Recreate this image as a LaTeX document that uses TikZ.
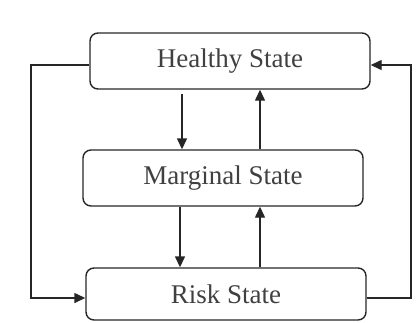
\documentclass[tikz,border=0pt]{standalone}
\usepackage{fontspec}
\setmainfont{Liberation Serif}
\usetikzlibrary{arrows.meta}
\begin{document}
\begin{tikzpicture}[x=1pt,y=-1pt,
  statebox/.style={draw=black!85, line width=1.4pt, rounded corners=8pt, minimum width=280pt, minimum height=56pt, inner sep=0pt, font=\fontsize{27}{32}\selectfont, text=black!75},
  link/.style={line width=1.4pt, draw=black!85},
  arr/.style={link, -{Triangle[width=10pt,length=11pt]}}]
\useasboundingbox (0,0) rectangle (420,322);
\node[statebox] (H) at (230,61) {\raisebox{-3pt}{Healthy State}};
\node[statebox] (M) at (223,178) {\raisebox{-2pt}{Marginal State}};
\node[statebox, minimum height=52pt] (R) at (226,294) {\raisebox{-2pt}{Risk State}};
\coordinate (L) at (31,180);
\coordinate (Rc) at (411,180);
\coordinate (d1) at (182,0);
\coordinate (u1) at (260,0);
\coordinate (d2) at (180,0);
\coordinate (u2) at (260,0);
\draw[arr] ([yshift=-4pt]H.west) -| (L) |- ([yshift=-4pt]R.west);
\draw[arr] ([yshift=-4pt]R.east) -| (Rc) |- ([yshift=-4pt]H.east);
\draw[arr] ([yshift=-4pt]H.south -| d1) -- (M.north -| d1);
\draw[arr] (M.north -| u1) -- (H.south -| u1);
\draw[arr] (M.south -| d2) -- (R.north -| d2);
\draw[arr] (R.north -| u2) -- (M.south -| u2);
\end{tikzpicture}
\end{document}
